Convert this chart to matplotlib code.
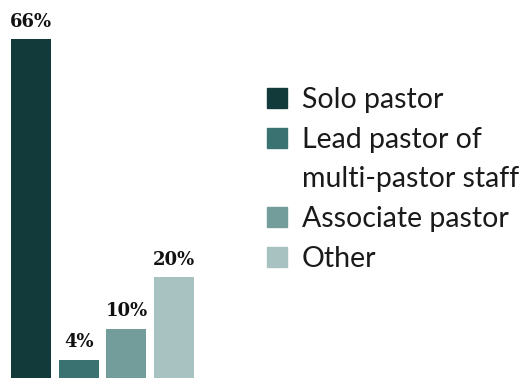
import matplotlib
matplotlib.use("Agg")
import matplotlib.pyplot as plt
from matplotlib.patches import Rectangle

# Share of respondents by pastoral role
categories = ["Solo pastor", "Lead pastor of\nmulti-pastor staff", "Associate pastor", "Other"]
values = [66, 4, 10, 20]
value_labels = ["66%", "4%", "10%", "20%"]
colors = ["#133a3a", "#3a7271", "#739d9b", "#a8c1c1"]

W, H = 528, 378
fig = plt.figure(figsize=(W / 100, H / 100), dpi=100)
fig.patch.set_facecolor("white")

ax = fig.add_axes([0, 0, 1, 1])
x = list(range(len(values)))
ax.bar(x, values, width=0.84, color=colors)
ax.set_xlim(-0.65, 10.42)
ax.set_ylim(0.46, 73.6)
ax.axis("off")

for xi, v, lab in zip(x, values, value_labels):
    ax.annotate(lab, (xi, v), xytext=(0, 6), textcoords="offset points",
                ha="center", va="bottom", fontsize=13, fontweight="heavy",
                family="DejaVu Serif", color="#111111")

# Legend: square swatches with wrapped labels
line_h = 39.7            # pixel spacing between text lines
first_baseline = 108     # pixel y of first label baseline
sq = 20
line = 0
for cat, col in zip(categories, colors):
    base = first_baseline + line * line_h
    fig.patches.append(Rectangle((267 / W, 1 - base / H), sq / W, sq / H,
                                 transform=fig.transFigure, color=col))
    for k, part in enumerate(cat.split("\n")):
        b = base + k * line_h
        fig.text(302 / W, 1 - b / H, part, family="Lato", fontsize=20.5,
                 color="#1a1a1a", ha="left", va="baseline")
    line += cat.count("\n") + 1

fig.savefig("out.png", dpi=100, facecolor="white")
